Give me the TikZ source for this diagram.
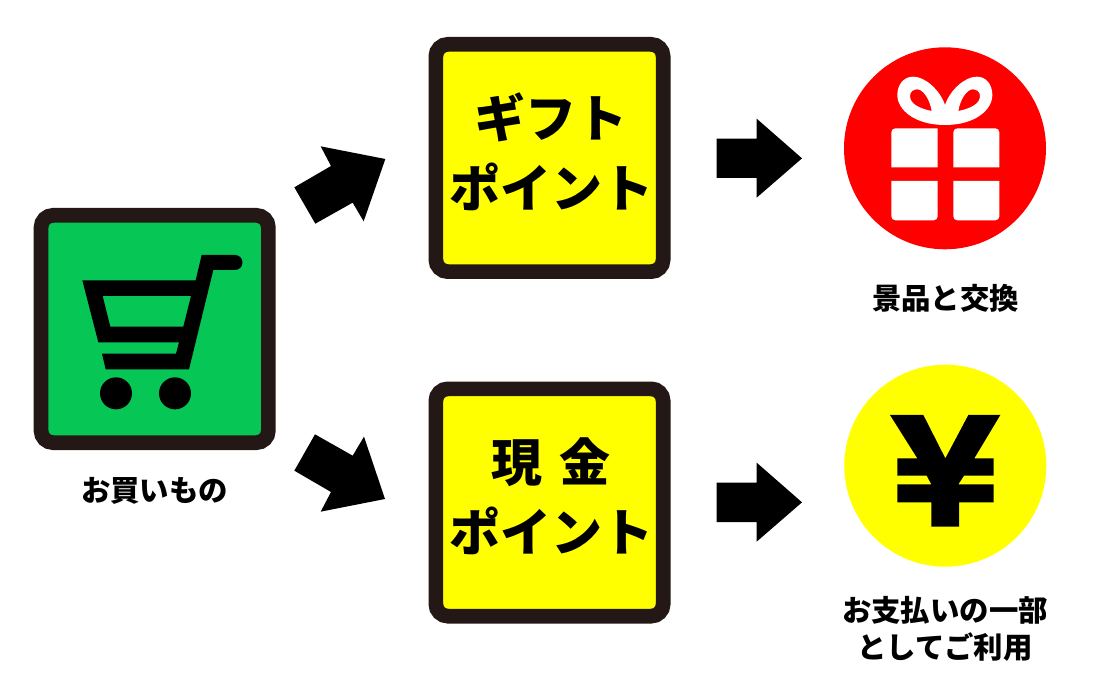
\documentclass[tikz,border=0pt]{standalone}
\usepackage{fontspec}
\newfontfamily\cjk{Noto Sans CJK JP Black}
\definecolor{frame}{HTML}{231815}
\definecolor{cartgreen}{HTML}{06C755}
\definecolor{pureyellow}{RGB}{255,255,0}
\definecolor{purered}{RGB}{255,0,0}
\tikzset{
  card/.style={draw=frame,line width=14.7pt,rounded corners=12pt,minimum size=227.3pt,inner sep=0pt,outer sep=0pt},
  bigtext/.style={font=\cjk\fontsize{51}{70}\selectfont,align=center,text=black,inner sep=0pt},
  caption/.style={font=\cjk\fontsize{29.4}{37}\selectfont,align=center,text=black,inner sep=0pt},
  disc/.style={circle,minimum size=202pt,inner sep=0pt,outer sep=0pt}
}
\begin{document}
\begin{tikzpicture}[x=1pt,y=-1pt]
\useasboundingbox (0,0) rectangle (1100,700);
\fill[white] (0,0) rectangle (1100,700);
\node[card,fill=cartgreen] (shop) at (154.7,329) {};
\node[card,fill=pureyellow] (gift) at (549.5,158) {};
\node[card,fill=pureyellow] (cash) at (549.5,502.5) {};
\node[disc,fill=purered] (prize) at (945,148.3) {};
\node[disc,fill=pureyellow] (yen) at (945.3,465.7) {};
\node[bigtext] (gifttext) at (551,152) {ギフト\\ポイント};
\node[bigtext] (cashtext) at (551,496) {現\kern5pt{} 金\\ポイント};
\node[caption] (shopcap) at (154.5,491) {お買いもの};
\node[caption] (prizecap) at (945.5,298.5) {景品と交換};
\node[caption] (yencap) at (945,628.5) {お支払いの一部\\としてご利用};
% cart
\begin{scope}[shift={(20,190)},scale=1/3]
\fill[black,even odd rule] (187,271)--(527,271)--(545,195)--(645,195) arc[start angle=-90,end angle=90,radius=22.5] --(580,240)--(507,538)--(257,538)--(246,491)--(468,491)--(477,457)--(235,457)--cycle
 (248,318)--(513,318)--(490,410)--(271,410)--cycle;
\fill (288,610) circle[radius=48];
\fill (465,610) circle[radius=48];
\end{scope}
% block arrows
\begin{scope}[shift={(280,30)},scale=1/3]
\fill (43,472)--(153,408)--(122,349)--(316,387)--(251,574)--(218,518)--(106,581)--cycle;
\end{scope}
\begin{scope}[shift={(280,420)},scale=1/3]
\fill (43,152)--(105,43)--(218,107)--(252,50)--(315,237)--(122,275)--(153,216)--cycle;
\end{scope}
\begin{scope}[shift={(700,100)},scale=1/3]
\fill (50,116)--(170,116)--(170,56)--(306,175)--(170,293)--(170,234)--(50,234)--cycle;
\end{scope}
\begin{scope}[shift={(700,445)},scale=1/3]
\fill (50,113)--(170,113)--(170,53)--(306,172)--(170,290)--(170,231)--(50,231)--cycle;
\end{scope}
% gift boxes
\begin{scope}[shift={(830,30)},scale=1/3]
\fill[white] (323,295) [rounded corners=4pt] -- (184,295) [sharp corners] -- (184,412) -- (323,412) -- cycle;
\fill[white] (370,412) -- (508,412) [rounded corners=4pt] -- (508,295) -- (370,295) [sharp corners] -- cycle;
\fill[white] (323,453) -- (184,453) [rounded corners=4pt] -- (184,571) -- (323,571) [sharp corners] -- cycle;
\fill[white] (370,453) -- (508,453) [rounded corners=4pt] -- (508,571) -- (370,571) [sharp corners] -- cycle;
\end{scope}
% bow
\begin{scope}[shift={(885,70)},scale=1/3]
\fill[white,even odd rule] (180,105) .. controls (165,60) and (120,20) .. (85,20) .. controls (55,20) and (37,45) .. (37,75) .. controls (37,120) and (90,165) .. (180,165) .. controls (270,165) and (322,120) .. (322,75) .. controls (322,45) and (305,20) .. (275,20) .. controls (240,20) and (195,60) .. (180,105) -- cycle
 (140,123) .. controls (100,115) and (75,100) .. (75,78) .. controls (75,65) and (85,58) .. (97,58) .. controls (115,58) and (135,90) .. (140,123) -- cycle
 (220,123) .. controls (260,115) and (285,100) .. (285,78) .. controls (285,65) and (275,58) .. (263,58) .. controls (245,58) and (225,90) .. (220,123) -- cycle;
\end{scope}
% yen mark
\begin{scope}[shift={(820,350)},scale=1/3]
\fill (210,195)--(310,195)--(376,325)--(445,195)--(541,195)--(463,325)--(521,325)--(521,377)--(432,377)--(415,403)--(521,403)--(521,457)--(417,457)--(417,530)--(334,530)--(334,457)--(232,457)--(232,403)--(334,403)--(320,377)--(232,377)--(232,325)--(292,325)--cycle;
\end{scope}
\end{tikzpicture}
\end{document}
